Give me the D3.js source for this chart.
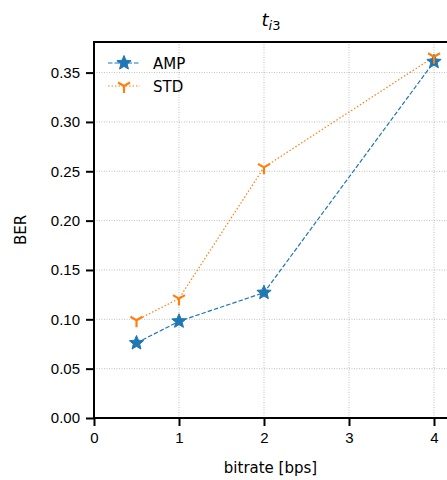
<!DOCTYPE html>
<html>
<head>
<meta charset="utf-8">
<style>
  body { margin: 0; background: #fff; }
  svg { font-family: "DejaVu Sans", sans-serif; }
  .grid line { stroke: #b0b0b0; stroke-width: 0.8; stroke-dasharray: 1,1.5; }
  .axis path, .axis line { stroke: #000; }
  .axis text { font-size: 15px; fill: #000; }
</style>
</head>
<body>
<svg id="chart" width="447" height="480"></svg>
<script src="https://cdn.jsdelivr.net/npm/d3@7"></script>
<script>
// data
var bitrates = [0.5, 1, 2, 4];
var ampValues = [0.076, 0.098, 0.127, 0.361];
var stdValues = [0.099, 0.121, 0.254, 0.366];
var xTicks = [0, 1, 2, 3, 4];
var yTicks = [0, 0.05, 0.1, 0.15, 0.2, 0.25, 0.3, 0.35];
var seriesNames = ['AMP', 'STD'];

var svg = d3.select('#chart');
var margin = { left: 94, top: 42, right: 0, bottom: 62 };
var W = 447, H = 480;

var x = d3.scaleLinear().domain([0, 4.153]).range([margin.left, W - margin.right]);
var y = d3.scaleLinear().domain([0, 0.381]).range([H - margin.bottom, margin.top]);

// grid
var grid = svg.append('g').attr('class', 'grid');
grid.selectAll('.gx').data(xTicks).enter().append('line')
    .attr('x1', d => x(d)).attr('x2', d => x(d))
    .attr('y1', y(0)).attr('y2', margin.top);
grid.selectAll('.gy').data(yTicks).enter().append('line')
    .attr('x1', x(0)).attr('x2', W)
    .attr('y1', d => y(d)).attr('y2', d => y(d));

// axes
svg.append('g').attr('class', 'axis')
    .attr('transform', 'translate(0,' + y(0) + ')')
    .call(d3.axisBottom(x).tickValues(xTicks).tickFormat(d3.format('d')).tickSize(8).tickPadding(6));
svg.append('g').attr('class', 'axis')
    .attr('transform', 'translate(' + x(0) + ',0)')
    .call(d3.axisLeft(y).tickValues(yTicks).tickFormat(d3.format('.2f')).tickSize(8).tickPadding(6));
svg.selectAll('.axis path').remove();
svg.selectAll('.axis line').attr('stroke-width', 2);

// spines
svg.append('line').attr('x1', x(0)).attr('x2', x(0)).attr('y1', margin.top - 1).attr('y2', y(0) + 1)
    .attr('stroke', '#000').attr('stroke-width', 2);
svg.append('line').attr('x1', x(0) - 1).attr('x2', W).attr('y1', y(0)).attr('y2', y(0))
    .attr('stroke', '#000').attr('stroke-width', 2);
svg.append('line').attr('x1', x(0) - 1).attr('x2', W).attr('y1', margin.top).attr('y2', margin.top)
    .attr('stroke', '#000').attr('stroke-width', 2);

// labels
svg.append('text').attr('x', (x(0) + W) / 2).attr('y', 473).attr('text-anchor', 'middle')
    .attr('font-size', 15).text('bitrate [bps]');
svg.append('text').attr('transform', 'translate(26,' + ((margin.top + y(0)) / 2) + ') rotate(-90)')
    .attr('text-anchor', 'middle').attr('font-size', 15).text('BER');

var title = svg.append('text').attr('x', 271).attr('y', 26).attr('text-anchor', 'middle').attr('font-size', 18);
title.append('tspan').attr('font-style', 'italic').text('t');
title.append('tspan').attr('font-size', 13).attr('dy', 4).attr('font-style', 'italic').text('i');
title.append('tspan').attr('font-size', 13).text('3');

// markers: fat matplotlib-like star and tri_down
function starPath(r) {
    var pts = [];
    for (var k = 0; k < 10; k++) {
        var a = -Math.PI / 2 + k * Math.PI / 5;
        var rr = k % 2 ? r * 0.45 : r;
        pts.push([rr * Math.cos(a), rr * Math.sin(a)]);
    }
    return 'M' + pts.map(p => p[0].toFixed(2) + ',' + p[1].toFixed(2)).join('L') + 'Z';
}
var star = starPath(7.5);
function triDown(g) {
    g.append('path').attr('d', 'M0,0 L0,7 M0,0 L-6,-3.5 M0,0 L6,-3.5')
        .attr('stroke', '#ff7f0e').attr('stroke-width', 2.2).attr('fill', 'none');
}

var line = d3.line().x(d => x(d[0])).y(d => y(d[1]));
var amp = bitrates.map((b, i) => [b, ampValues[i]]);
var std = bitrates.map((b, i) => [b, stdValues[i]]);

svg.append('path').datum(amp).attr('d', line).attr('fill', 'none')
    .attr('stroke', '#1f77b4').attr('stroke-width', 1.2).attr('stroke-dasharray', '4.5,2');
svg.append('path').datum(std).attr('d', line).attr('fill', 'none')
    .attr('stroke', '#ff7f0e').attr('stroke-width', 1.2).attr('stroke-dasharray', '1.5,2');

svg.selectAll('.ampm').data(amp).enter().append('path')
    .attr('transform', d => 'translate(' + x(d[0]) + ',' + y(d[1]) + ')')
    .attr('d', star).attr('fill', '#1f77b4').attr('stroke', '#1f77b4').attr('stroke-width', 1).attr('stroke-linejoin', 'round');
svg.selectAll('.stdm').data(std).enter().append('g')
    .attr('transform', d => 'translate(' + x(d[0]) + ',' + y(d[1]) + ')')
    .each(function () { triDown(d3.select(this)); });

// legend
var leg = svg.append('g').attr('transform', 'translate(108,63)');
leg.append('line').attr('x1', 0).attr('x2', 32).attr('stroke', '#1f77b4').attr('stroke-width', 1.2).attr('stroke-dasharray', '4.5,2');
leg.append('path').attr('transform', 'translate(16,0)').attr('d', star).attr('fill', '#1f77b4').attr('stroke', '#1f77b4').attr('stroke-linejoin', 'round');
leg.append('text').attr('x', 45).attr('y', 5.5).attr('font-size', 15).text(seriesNames[0]);
var leg2 = svg.append('g').attr('transform', 'translate(108,86)');
leg2.append('line').attr('x1', 0).attr('x2', 32).attr('stroke', '#ff7f0e').attr('stroke-width', 1.2).attr('stroke-dasharray', '1.5,2');
leg2.append('g').attr('transform', 'translate(16,0)').call(triDown);
leg2.append('text').attr('x', 45).attr('y', 5.5).attr('font-size', 15).text(seriesNames[1]);
</script>
</body>
</html>
